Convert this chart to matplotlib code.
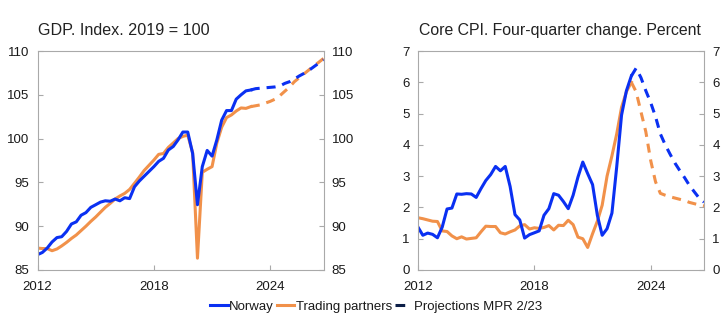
import numpy as np
import pandas as pd
import matplotlib
matplotlib.use("Agg")
import matplotlib.pyplot as plt
from matplotlib.lines import Line2D

plt.rcParams['font.family'] = ['Liberation Sans', 'DejaVu Sans']
plt.rcParams['lines.scale_dashes'] = False

# ---------------- DATA (quarterly, 2012Q1 - 2026Q4) -----------------
quarters = pd.date_range('2012-01-01', periods=60, freq='QS')
N_ACT = 45  # 2012Q1 .. 2023Q1 observed, projections start at 2023Q1

gdp_norway = [86.75, 87.0, 87.5, 88.2, 88.7, 88.8, 89.4, 90.25, 90.5, 91.25,
              91.55, 92.15, 92.45, 92.75, 92.9, 92.85, 93.1, 92.9, 93.25, 93.15,
              94.5, 95.15, 95.7, 96.25, 96.8, 97.4, 97.75, 98.7, 99.1, 99.85,
              100.75, 100.75, 98.3, 92.45, 96.8, 98.65, 98.0, 99.85, 102.1, 103.2,
              103.2, 104.5, 105.0, 105.45, 105.55]
gdp_norway_proj = [105.55, 105.7, 105.75, 105.8, 105.85, 105.9, 106.0, 106.3,
                   106.5, 106.8, 107.15, 107.45, 107.8, 108.2, 108.6, 109.0]

gdp_partners = [87.5, 87.45, 87.45, 87.2, 87.4, 87.75, 88.15, 88.6, 89.0, 89.5,
                90.0, 90.55, 91.05, 91.6, 92.15, 92.6, 93.1, 93.45, 93.75, 94.2,
                94.9, 95.6, 96.35, 96.95, 97.55, 98.2, 98.3, 99.0, 99.5, 100.0,
                100.25, 100.4, 98.4, 86.35, 96.15, 96.5, 96.8, 99.5, 101.3, 102.4,
                102.7, 103.15, 103.5, 103.45, 103.65]
gdp_partners_proj = [103.65, 103.75, 103.85, 104.05, 104.25, 104.5, 104.9, 105.4,
                     105.9, 106.5, 106.95, 107.4, 107.85, 108.3, 108.7, 109.15]

cpi_norway = [1.37, 1.11, 1.18, 1.14, 1.03, 1.37, 1.95, 1.98, 2.43, 2.42,
              2.44, 2.43, 2.32, 2.6, 2.86, 3.05, 3.31, 3.17, 3.31, 2.67,
              1.77, 1.6, 1.02, 1.13, 1.19, 1.25, 1.75, 1.96, 2.44, 2.39,
              2.19, 1.96, 2.39, 2.97, 3.45, 3.08, 2.73, 1.75, 1.11, 1.32,
              1.82, 3.3, 4.95, 5.73, 6.2]
cpi_norway_proj = [6.2, 6.45, 6.15, 5.73, 5.35, 4.9, 4.35, 4.0, 3.7, 3.42,
                   3.18, 2.95, 2.7, 2.5, 2.3, 2.17]

cpi_partners = [1.67, 1.64, 1.6, 1.56, 1.55, 1.25, 1.23, 1.09, 1.0, 1.06,
                0.99, 1.01, 1.03, 1.22, 1.4, 1.39, 1.39, 1.19, 1.15, 1.22,
                1.28, 1.41, 1.45, 1.31, 1.35, 1.33, 1.36, 1.42, 1.28, 1.43,
                1.42, 1.59, 1.45, 1.05, 1.0, 0.72, 1.16, 1.56, 2.07, 3.0,
                3.65, 4.35, 5.2, 5.7, 6.0]
cpi_partners_proj = [6.0, 5.7, 5.06, 4.42, 3.5, 2.82, 2.45, 2.39, 2.34, 2.3,
                     2.26, 2.22, 2.16, 2.12, 2.08, 2.05]

xtick_years = ['2012', '2018', '2024']

# ---------------- STYLE -----------------
BLUE = '#0a30f2'
ORANGE = '#f1914a'
NAVY = '#0b1e47'
GREY = '#a9a9a9'
TEXT = '#1a1a1a'
LW = 2.2
DASH = (0, (6.5, 5))

fig = plt.figure(figsize=(7.22, 3.24), dpi=100)
ax1 = fig.add_axes([37.5 / 722, 54 / 324, 286 / 722, 219 / 324])
ax2 = fig.add_axes([418 / 722, 54 / 324, 286 / 722, 219 / 324])


def draw(ax, act_no, proj_no, act_tp, proj_tp):
    xa = quarters[:N_ACT]
    xp = quarters[N_ACT - 1:]
    ax.plot(xa, act_tp, color=ORANGE, lw=LW, solid_joinstyle='round')
    ax.plot(xa, act_no, color=BLUE, lw=LW, solid_joinstyle='round')
    ax.plot(xp, proj_tp, color=ORANGE, lw=LW, linestyle=DASH, dash_capstyle='butt')
    ax.plot(xp, proj_no, color=BLUE, lw=LW, linestyle=DASH, dash_capstyle='butt')
    ax.set_xlim(quarters[0], quarters[-1])
    ax.set_xticks([pd.Timestamp(y + '-01-01') for y in xtick_years])
    ax.set_xticklabels(xtick_years)
    for s in ax.spines.values():
        s.set_color(GREY)
        s.set_linewidth(0.8)
    ax.tick_params(direction='in', length=3.5, width=0.8, color=GREY,
                   labelsize=9.5, labelcolor=TEXT)
    ax.tick_params(axis='y', right=True, labelright=True, pad=6)
    ax.tick_params(axis='x', pad=8)


draw(ax1, gdp_norway, gdp_norway_proj, gdp_partners, gdp_partners_proj)
ax1.set_ylim(85, 110)
ax1.set_yticks(np.arange(85, 111, 5))

draw(ax2, cpi_norway, cpi_norway_proj, cpi_partners, cpi_partners_proj)
ax2.set_ylim(0, 7)
ax2.set_yticks(np.arange(0, 8, 1))

fig.text(38.5 / 722, 1 - 35 / 324, 'GDP. Index. 2019 = 100', fontsize=11.6,
         color='#222222', va='baseline', ha='left')
fig.text(419.5 / 722, 1 - 35 / 324, 'Core CPI. Four-quarter change. Percent',
         fontsize=11.4, color='#222222', va='baseline', ha='left')

handles = [Line2D([], [], color=BLUE, lw=LW),
           Line2D([], [], color=ORANGE, lw=LW),
           Line2D([], [], color=NAVY, lw=LW, linestyle=(0, (7, 20)), dash_capstyle='butt')]
labels = ['Norway', 'Trading partners', 'Projections MPR 2/23']
fig.legend(handles, labels, loc='center', bbox_to_anchor=(376 / 722, 17.3 / 324),
           ncol=3, frameon=False, fontsize=9.5, handlelength=1.35,
           handletextpad=0.1, columnspacing=0.2, borderpad=0, labelcolor=TEXT)

fig.savefig('out.png', dpi=100)
